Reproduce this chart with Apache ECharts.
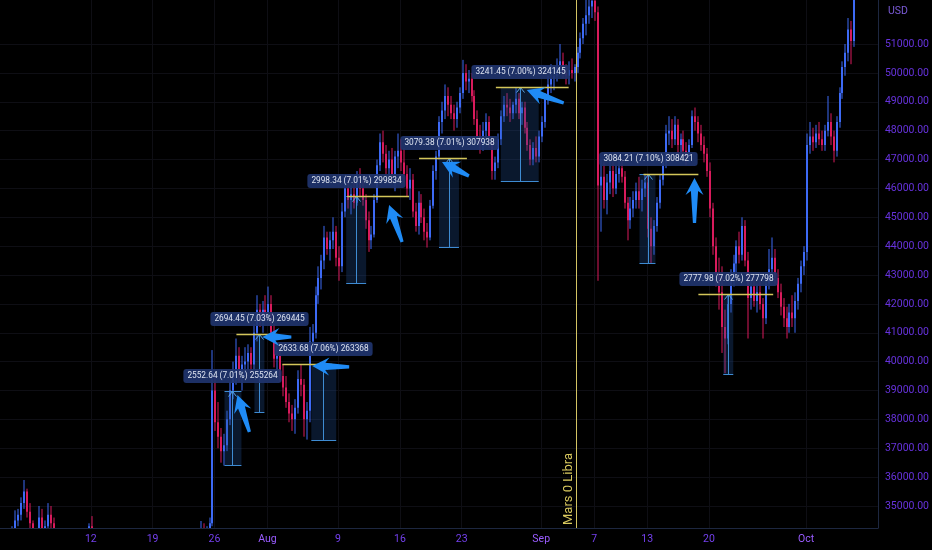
<!DOCTYPE html>
<html><head><meta charset="utf-8">
<script src="https://cdn.jsdelivr.net/npm/echarts@6/dist/echarts.min.js"></script>
<style>html,body{margin:0;padding:0;background:#000;}#c{width:932px;height:550px;}</style>
</head><body><div id="c"></div>
<script>
// day 0 = 2021-07-01 00:00, one candle every 8 hours
const candleStartDay = 0;
const candleStepDays = 1 / 3;
const opens = [35000,34300,33600,33500,33100,33400,33800,34000,34500,34700,35100,35500,34800,34400,33700,33800,34600,34100,34300,34700,34400,33900,33000,32700,32900,33100,33700,33800,33600,33300,33500,33800,34000,34300,34100,33500,32900,33000,32600,32700,32200,32400,32800,32600,31800,31500,31900,31500,31400,31600,31500,31700,32100,31900,31800,31300,30900,30800,30200,29600,29800,30700,31800,32200,32000,32300,32400,32600,33000,33500,33900,34200,34100,34200,34400,39000,37900,37400,36900,37100,38000,39000,39500,40200,39700,39900,40000,40300,39900,41000,41800,41500,41800,41700,42000,41000,40100,40200,39500,39100,38600,38200,38000,38400,39400,39200,38000,38300,40700,41000,42300,42900,43500,44300,43900,44200,44500,43600,43300,45200,46000,45600,45800,45500,46200,46000,45600,44900,44200,44400,45600,46800,47600,47200,46700,47000,46500,47100,47300,46900,46500,46000,46300,45200,44700,45500,45000,44500,44300,45400,46600,47100,48300,48700,49200,48900,48600,48400,48800,49300,50000,49700,49800,49200,48400,47800,47500,48000,48300,47600,46600,46900,47700,48500,48900,48800,48600,48900,49100,48600,48800,48100,47500,47000,47400,47100,47800,48300,49100,49600,49800,49900,50200,50400,50000,49900,50100,50000,50200,50700,51200,51700,52000,52300,52500,52100,46100,46400,45600,46200,46600,46000,46500,46700,46400,45500,44900,45300,45600,45900,45600,46000,46200,44600,44000,44700,45500,46300,46900,47900,48000,47700,48200,47500,47700,47300,47100,47500,48500,48300,47900,47500,47200,46600,45300,44000,43000,42400,41200,40800,42000,42900,43400,44000,43700,44700,43500,42200,42600,42100,42400,42000,41500,42700,43200,43600,42900,42400,41900,41500,41200,41700,41500,42100,42700,43300,43800,47500,47800,47600,47900,47700,47500,48000,48300,47800,47300,48300,49300,50200,50700,51500,51100];
const highs = [35100,34400,33800,33700,33600,33900,34300,34850,34900,35300,35900,35600,35100,34500,34000,35000,34900,34500,35100,35000,34600,34000,33400,33100,33300,33900,34000,34100,33900,33600,33900,34100,34400,34650,34200,33600,33300,33100,32900,33000,32600,33100,33200,32800,32000,32200,32100,31700,31800,31900,31800,32400,32300,32100,31900,31500,31100,31000,30400,30000,30900,32000,32800,32600,32500,32600,32800,33200,33600,34100,34480,34400,34300,34600,40400,39500,38600,37700,37500,38300,39300,40000,40800,40500,40200,40500,40600,40500,41300,42300,42000,42100,42300,42600,42300,41300,40600,40500,39900,39500,38900,38500,38700,39700,39900,39400,38600,41200,41300,42600,43300,43700,44700,44500,44500,45000,44700,44000,45500,46400,46400,46100,46200,46600,46700,46300,45800,45200,44700,45800,47000,47900,48000,47500,47300,47400,47300,47900,47700,47400,46800,46700,46500,45500,45900,45800,45300,44800,45600,46800,47300,48500,49000,49600,49500,49200,48900,49000,49500,50450,50300,50100,50000,49400,48700,48200,48300,48600,48500,47800,47100,47900,48700,49200,49300,49100,49000,49500,49300,49000,49000,48300,47700,47600,47800,48000,48500,49300,49900,50300,50100,50500,51000,50700,50300,50400,50500,50300,50900,51400,51900,52600,52800,52900,52900,52300,47000,46900,46500,47000,46900,46800,47000,47000,46600,45700,45700,45900,46200,46400,46300,46500,46500,45000,44900,45700,46500,47100,48200,48500,48400,48500,48400,47900,48000,47600,47700,48700,48800,48500,48200,47800,47400,46900,45500,44300,43600,43300,41800,42300,43200,43700,44200,44500,45000,44900,43800,42900,43000,42700,42800,42200,42900,43900,44300,43900,43200,42700,42200,41900,42000,42300,42400,42900,43500,44000,47900,48300,48100,48200,48300,48000,48200,49200,48600,48000,48500,49500,50400,51000,51900,51800,53500];
const lows = [34200,33300,33300,32700,32900,33200,33300,33900,34300,34500,34900,34600,34200,33500,33200,33700,33900,33600,34100,34200,33800,32800,32100,32400,32300,33000,33500,33400,33100,33100,33400,33600,33900,34000,33300,32700,32600,32400,32400,32000,31600,32300,32400,31600,31200,31400,31300,31100,31200,31300,31400,31600,31700,31500,31100,30700,30400,30000,29300,29400,29500,30600,31700,31700,31800,32100,32000,32500,32900,33400,33700,33800,33900,34000,34300,37600,37000,36500,36400,36900,37800,38700,39200,39300,39000,39500,39700,39600,39700,40700,41200,41000,41400,41500,40800,39800,39600,39300,38800,38400,37900,37600,37500,38200,38800,37400,37300,37900,40200,40800,42000,42500,43200,43700,43500,43900,43300,42800,43100,45000,45300,45100,45300,45400,45700,45400,44600,43800,43900,44300,45500,46600,46900,46500,46300,46200,45900,46700,46600,46200,45700,45600,45000,44500,44400,44800,44200,43950,44200,45300,46300,47000,47900,48400,48500,48400,48000,48100,48600,49100,49400,49300,49000,48200,47600,47200,47300,47700,47400,46300,46300,46700,47500,48300,48500,48300,48400,48600,48400,48200,47900,47300,46800,46800,46900,46900,47600,48100,48900,49300,49400,49700,50000,49800,49600,49600,49800,49700,50000,50500,51000,51300,51700,51900,51800,42800,44500,45300,45100,45800,45700,45800,46200,46200,45300,44200,44600,45000,45300,45300,45200,45700,44300,43400,43700,44500,45300,46100,46700,47500,47400,47500,47200,47100,47000,46800,46900,47400,48000,47600,47300,46900,46400,45000,43700,42600,41800,40300,39600,40600,41700,42600,43100,43400,43500,43300,40800,41800,41900,41700,41800,40800,41300,42500,43000,42700,42200,41600,41200,40800,41000,41200,41000,41800,42400,43000,43500,47200,47300,47400,47500,47300,47300,47800,47500,46900,47100,48100,49100,49900,50400,50300,50900];
const closes = [34300,33600,33500,33100,33400,33800,34000,34500,34700,35100,35500,34800,34400,33700,33800,34600,34100,34300,34700,34400,33900,33000,32700,32900,33100,33700,33800,33600,33300,33500,33800,34000,34300,34100,33500,32900,33000,32600,32700,32200,32400,32800,32600,31800,31500,31900,31500,31400,31600,31500,31700,32100,31900,31800,31300,30900,30800,30200,29600,29800,30700,31800,32200,32000,32300,32400,32600,33000,33500,33900,34200,34100,34200,34400,39000,37900,37400,36900,37100,38000,39000,39500,40200,39700,39900,40000,40300,39900,41000,41800,41500,41800,41700,42000,41000,40100,40200,39500,39100,38600,38200,38000,38400,39400,39200,38000,38300,40700,41000,42300,42900,43500,44300,43900,44200,44500,43600,43300,45200,46000,45600,45800,45500,46200,46000,45600,44900,44200,44400,45600,46800,47600,47200,46700,47000,46500,47100,47300,46900,46500,46000,46300,45200,44700,45500,45000,44500,44300,45400,46600,47100,48300,48700,49200,48900,48600,48400,48800,49300,50000,49700,49800,49200,48400,47800,47500,48000,48300,47600,46600,46900,47700,48500,48900,48800,48600,48900,49100,48600,48800,48100,47500,47000,47400,47100,47800,48300,49100,49600,49800,49900,50200,50400,50000,49900,50100,50000,50200,50700,51200,51700,52000,52300,52500,52100,46100,46400,45600,46200,46600,46000,46500,46700,46400,45500,44900,45300,45600,45900,45600,46000,46200,44600,44000,44700,45500,46300,46900,47900,48000,47700,48200,47500,47700,47300,47100,47500,48500,48300,47900,47500,47200,46600,45300,44000,43000,42400,41200,40800,42000,42900,43400,44000,43700,44700,43500,42200,42600,42100,42400,42000,41500,42700,43200,43600,42900,42400,41900,41500,41200,41700,41500,42100,42700,43300,43800,47500,47800,47600,47900,47700,47500,48000,48300,47800,47300,48300,49300,50200,50700,51500,51100,53000];

const dayTickValues = [11, 18, 25, 31, 39, 46, 53, 62, 68, 74, 81, 92];
const dayTickLabels = ['12', '19', '26', 'Aug', '9', '16', '23', 'Sep', '7', '13', '20', 'Oct'];
const monthLabels = ['Aug', 'Sep', 'Oct'];
const priceTickValues = [35000,36000,37000,38000,39000,40000,41000,42000,43000,44000,45000,46000,47000,48000,49000,50000,51000];

// price-range drawings
const rangeLabels = ['2552.64 (7.01%) 255264','2694.45 (7.03%) 269445','2633.68 (7.06%) 263368','2998.34 (7.01%) 299834','3079.38 (7.01%) 307938','3241.45 (7.00%) 324145','3084.21 (7.10%) 308421','2777.98 (7.02%) 277798'];
const rangeLows = [36414, 38263, 37284, 42721, 43973, 46270, 43431, 39565];
const rangeHighs = [38967, 40957, 39918, 45719, 47052, 49511, 46515, 42343];
const rangeDays = [27.04, 30.09, 37.32, 41.05, 51.56, 59.58, 74.04, 83.19];
const rangeRectFrom = [26.14, 29.53, 35.97, 39.92, 50.43, 57.43, 73.13, 82.62];
const rangeRectTo = [28.06, 30.66, 38.79, 42.18, 52.69, 61.72, 74.94, 83.75];
const levelLineFrom = [null, 27.49, 32.69, 40.03, 48.17, 56.87, 73.58, 79.80];
const levelLineTo = [null, 32.12, 38.34, 47.04, 53.59, 65.11, 79.80, 88.27];
// arrows: tail [day, price] -> tip [day, price]
const arrowTails = [[28.96,37564],[33.71,40853],[40.26,39815],[46.25,44143],[53.82,46429],[64.55,48957],[79.36,44801]];
const arrowTips = [[27.61,38845],[30.43,40853],[36.08,39849],[44.78,45425],[50.77,46914],[60.37,49407],[79.36,46360]];
const eventDay = 65.9;
const eventText = 'Mars 0 Libra';

const upColor = '#3d6af5', downColor = '#d91b5c';
const candleData = closes.map((c, i) => [candleStartDay + i * candleStepDays, opens[i], c, lows[i], highs[i]]);

const chart = echarts.init(document.getElementById('c'), null, {renderer: 'canvas'});
const font = 'Roboto';
chart.setOption({
  backgroundColor: '#000000',
  animation: false,
  grid: {left: 0, right: 52, top: 0, bottom: 22},
  xAxis: {
    type: 'value', min: 0.72, max: 100.13,
    axisLine: {show: true, onZero: false, lineStyle: {color: '#1d2740', width: 1}},
    axisTick: {show: false}, splitLine: {show: false},
    axisLabel: {
      customValues: dayTickValues, margin: 6, fontSize: 10.5, fontFamily: font, color: '#7440ee',
      formatter: v => { const i = dayTickValues.indexOf(v); const t = dayTickLabels[i]; return monthLabels.includes(t) ? '{m|' + t + '}' : t; },
      rich: {m: {color: '#9a5cff', fontSize: 10.5, fontFamily: font}}
    }
  },
  yAxis: {
    type: 'value', position: 'right', min: 34238, max: 52524, scale: true,
    axisLine: {show: true, onZero: false, lineStyle: {color: '#1d2740', width: 1}},
    axisTick: {show: false}, splitLine: {show: false},
    axisLabel: {customValues: priceTickValues, margin: 7, fontSize: 10.5, fontFamily: font, color: '#6632dc', align: 'left', formatter: v => v.toFixed(2)}
  },
  series: [
    {
      type: 'line', data: [], silent: true, z: 0,
      markLine: {
        silent: true, symbol: ['none', 'none'], label: {show: false}, animation: false, z: 0,
        lineStyle: {color: '#0e0e14', width: 1, type: 'solid'},
        data: priceTickValues.map(v => ({yAxis: v})).concat(dayTickValues.map(v => ({xAxis: v})))
      }
    },
    {
      type: 'custom', clip: true, silent: true, data: candleData, z: 5,
      renderItem: (params, api) => {
        const d = api.value(0), o = api.value(1), c = api.value(2), l = api.value(3), h = api.value(4);
        const pO = api.coord([d, o]), pC = api.coord([d, c]), pL = api.coord([d, l]), pH = api.coord([d, h]);
        const x0 = Math.round(pO[0]);
        const col = c >= o ? upColor : downColor;
        const top = Math.min(pO[1], pC[1]), bot = Math.max(pO[1], pC[1]);
        return {type: 'group', children: [
          {type: 'line', shape: {x1: x0 + 1, y1: pH[1], x2: x0 + 1, y2: pL[1]}, style: {stroke: col, lineWidth: 1}},
          {type: 'rect', shape: {x: x0, y: top, width: 2, height: Math.max(bot - top, 1)}, style: {fill: col}}
        ]};
      }
    }
  ]
});

function px(d, p) { return chart.convertToPixel({xAxisIndex: 0, yAxisIndex: 0}, [d, p]); }
const els = [];
// event vertical line
const ev = px(eventDay, 40000);
els.push({type: 'line', z: 20, shape: {x1: Math.round(ev[0]) + 0.5, y1: 0, x2: Math.round(ev[0]) + 0.5, y2: 528}, style: {stroke: '#d3c463', lineWidth: 1}});
els.push({type: 'text', z: 21, x: Math.round(ev[0]) - 7, y: 525, rotation: Math.PI / 2,
  style: {text: eventText, fill: '#d8c85e', font: '13px ' + font, align: 'left', verticalAlign: 'middle'}});

rangeLabels.forEach((label, i) => {
  const pT = px(rangeDays[i], rangeHighs[i]), pB = px(rangeDays[i], rangeLows[i]);
  const r0 = px(rangeRectFrom[i], 0)[0], r1 = px(rangeRectTo[i], 0)[0];
  const xc = Math.round(pT[0]) + 0.5, yT = Math.round(pT[1]) + 0.5, yB = Math.round(pB[1]) + 0.5;
  els.push({type: 'rect', z: 20, shape: {x: r0, y: yT, width: r1 - r0, height: yB - yT}, style: {fill: 'rgba(32,78,150,0.30)'}});
  els.push({type: 'line', z: 21, shape: {x1: xc, y1: yT, x2: xc, y2: yB}, style: {stroke: '#3e8bd2', lineWidth: 1}});
  els.push({type: 'line', z: 21, shape: {x1: r0, y1: yB, x2: r1, y2: yB}, style: {stroke: '#3e8bd2', lineWidth: 1}});
  els.push({type: 'line', z: 21, shape: {x1: r0, y1: yT, x2: r1, y2: yT}, style: {stroke: '#3e8bd2', lineWidth: 1}});
  els.push({type: 'polyline', z: 21, shape: {points: [[xc - 4, yT + 5], [xc, yT], [xc + 4, yT + 5]]}, style: {stroke: '#5aa6e6', lineWidth: 1, fill: null}});
  if (levelLineFrom[i] !== null) {
    const l0 = px(levelLineFrom[i], 0)[0], l1 = px(levelLineTo[i], 0)[0];
    els.push({type: 'line', z: 22, shape: {x1: l0, y1: yT, x2: l1, y2: yT}, style: {stroke: '#d4c65a', lineWidth: 1.5}});
  }
  els.push({type: 'text', z: 25, x: xc, y: yT - 8 - 7.5,
    style: {text: label, fill: '#dde3f0', font: '8.3px ' + font, align: 'center', verticalAlign: 'middle',
      backgroundColor: 'rgba(31,52,110,0.92)', padding: [3, 4, 3, 4], borderRadius: 3}});
});

arrowTails.forEach((tail, i) => {
  const a = px(tail[0], tail[1]), b = px(arrowTips[i][0], arrowTips[i][1]);
  const dx = b[0] - a[0], dy = b[1] - a[1], len = Math.hypot(dx, dy);
  const ux = dx / len, uy = dy / len, nx = -uy, ny = ux;
  const H = 15, W = 9, s1 = 3.6, s0 = 1.6;
  const bx = b[0] - ux * H, by = b[1] - uy * H;
  const pts = [
    [b[0], b[1]],
    [bx + nx * W - ux * 2, by + ny * W - uy * 2],
    [bx + nx * s1 + ux * 2, by + ny * s1 + uy * 2],
    [a[0] + nx * s0, a[1] + ny * s0],
    [a[0] - nx * s0, a[1] - ny * s0],
    [bx - nx * s1 + ux * 2, by - ny * s1 + uy * 2],
    [bx - nx * W - ux * 2, by - ny * W - uy * 2]
  ];
  els.push({type: 'polygon', z: 26, shape: {points: pts}, style: {fill: '#1f8bf5'}});
});

els.push({type: 'text', z: 30, x: 888, y: 11, style: {text: 'USD', fill: '#7a5ad6', font: '10.5px ' + font, align: 'left', verticalAlign: 'middle'}});
chart.setOption({graphic: {elements: els}});
</script>
</body></html>
